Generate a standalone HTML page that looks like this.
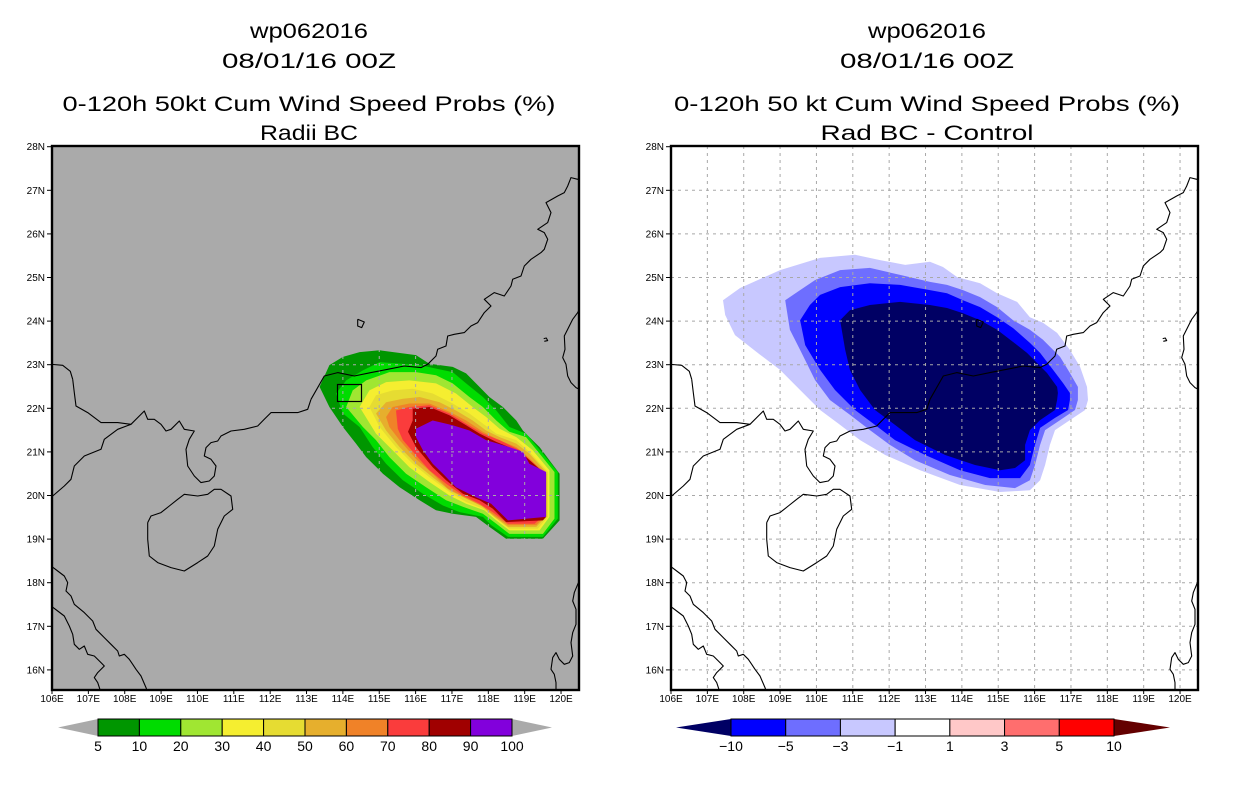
<!DOCTYPE html>
<html><head><meta charset="utf-8"><style>
html,body{margin:0;padding:0;background:#fff;}
svg{display:block;}
text{font-family:"Liberation Sans",sans-serif;fill:#000;}
</style></head><body>
<svg id="root" width="1236" height="800" viewBox="0 0 1236 800" xmlns="http://www.w3.org/2000/svg">
<defs>
<clipPath id="clipL"><rect x="0" y="0" width="527" height="544"/></clipPath>
<clipPath id="clipR"><rect x="0" y="0" width="527" height="544"/></clipPath>
</defs>
<g>
<text x="309" y="38" font-size="21" text-anchor="middle" textLength="118" lengthAdjust="spacingAndGlyphs">wp062016</text>
<text x="309" y="68" font-size="21" text-anchor="middle" textLength="174" lengthAdjust="spacingAndGlyphs">08/01/16 00Z</text>
<text x="309" y="111" font-size="21" text-anchor="middle" textLength="493" lengthAdjust="spacingAndGlyphs">0-120h 50kt Cum Wind Speed Probs (%)</text>
<text x="309" y="140" font-size="21" text-anchor="middle" textLength="98" lengthAdjust="spacingAndGlyphs">Radii BC</text>
</g>
<g>
<text x="927" y="38" font-size="21" text-anchor="middle" textLength="118" lengthAdjust="spacingAndGlyphs">wp062016</text>
<text x="927" y="68" font-size="21" text-anchor="middle" textLength="174" lengthAdjust="spacingAndGlyphs">08/01/16 00Z</text>
<text x="927" y="111" font-size="21" text-anchor="middle" textLength="506" lengthAdjust="spacingAndGlyphs">0-120h 50 kt Cum Wind Speed Probs (%)</text>
<text x="927" y="140" font-size="21" text-anchor="middle" textLength="213" lengthAdjust="spacingAndGlyphs">Rad BC - Control</text>
</g>
<g id="panelL" transform="translate(52,146)"></g>
<g id="panelR" transform="translate(671,146)"></g>
<g id="cbL"></g>
<g id="cbR"></g>
</svg>
<script>
const NS="http://www.w3.org/2000/svg";
// ---- data: probability contour levels (left) ----
const probLevels=[5,10,20,30,40,50,60,70,80,90,100];
const probColors=["#009600","#00dc00","#a0e632","#f5ee30","#e6dc32","#e6af2d","#f08228","#fa3c3c","#a00000","#8200dc"];
const prob5=[[113.36,22.49],[113.63,22.99],[114.00,23.18],[114.46,23.29],[115.01,23.33],[116.01,23.22],[116.38,23.02],[117.02,22.95],[117.39,22.80],[117.66,22.57],[118.03,22.26],[118.40,22.03],[118.77,21.72],[118.95,21.49],[119.13,21.34],[119.41,21.11],[119.68,20.81],[119.96,20.50],[119.96,19.43],[119.50,19.01],[118.49,19.01],[118.03,19.28],[117.66,19.51],[117.02,19.58],[116.56,19.66],[116.11,19.89],[115.56,20.19],[115.10,20.50],[114.64,20.88],[114.36,21.19],[114.00,21.57],[113.63,22.03]];
const prob10=[[113.81,22.34],[114.09,22.64],[114.55,22.87],[115.01,23.06],[116.11,22.99],[117.02,22.83],[117.39,22.57],[117.85,22.26],[118.22,21.95],[118.58,21.57],[119.04,21.42],[119.50,20.96],[119.91,20.54],[119.91,19.47],[119.50,19.05],[118.54,19.05],[118.08,19.32],[117.85,19.51],[117.21,19.62],[116.75,19.77],[116.20,20.04],[115.65,20.35],[115.19,20.73],[114.82,21.11],[114.46,21.57],[114.00,21.88]];
const prob20=[[114.09,22.03],[114.27,22.41],[114.64,22.64],[115.28,22.83],[116.01,22.83],[116.56,22.76],[117.02,22.57],[117.48,22.26],[117.85,22.03],[118.22,21.72],[118.58,21.46],[119.04,21.34],[119.41,20.96],[119.82,20.54],[119.82,19.47],[119.50,19.12],[118.58,19.12],[118.22,19.35],[117.85,19.58],[117.30,19.74],[116.84,19.89],[116.29,20.19],[115.74,20.50],[115.28,20.88],[114.91,21.27],[114.55,21.57]];
const prob30=[[114.46,22.03],[114.73,22.41],[115.19,22.60],[115.83,22.64],[116.56,22.57],[117.11,22.34],[117.57,22.03],[117.94,21.80],[118.31,21.53],[118.77,21.34],[119.22,21.04],[119.68,20.58],[119.68,19.51],[119.41,19.20],[118.58,19.20],[118.22,19.43],[117.89,19.66],[117.39,19.81],[116.93,20.00],[116.38,20.31],[115.83,20.65],[115.46,20.96],[114.91,21.42]];
const prob40=[[114.73,22.03],[114.91,22.30],[115.37,22.41],[115.92,22.45],[116.47,22.34],[117.02,22.11],[117.48,21.88],[117.85,21.65],[118.22,21.42],[118.77,21.27],[119.13,21.00],[119.64,20.54],[119.64,19.51],[119.36,19.24],[118.58,19.24],[118.22,19.47],[117.85,19.70],[117.39,19.85],[116.93,20.08],[116.38,20.42],[115.92,20.73],[115.46,21.11],[115.01,21.57]];
const prob50=[[114.91,21.88],[115.19,22.14],[115.65,22.22],[116.11,22.26],[116.66,22.14],[117.11,21.95],[117.57,21.72],[117.94,21.49],[118.31,21.34],[118.77,21.19],[119.13,20.96],[119.59,20.54],[119.59,19.51],[119.32,19.28],[118.54,19.28],[118.17,19.51],[117.85,19.74],[117.39,19.93],[116.93,20.12],[116.47,20.42],[116.01,20.73],[115.56,21.11],[115.19,21.49]];
const prob60=[[115.19,21.80],[115.37,22.03],[115.83,22.11],[116.38,22.11],[116.93,21.92],[117.39,21.72],[117.85,21.46],[118.22,21.30],[118.77,21.11],[119.04,20.92],[119.54,20.54],[119.54,19.51],[119.32,19.32],[118.54,19.32],[118.17,19.54],[117.80,19.77],[117.34,19.96],[116.88,20.16],[116.47,20.50],[116.01,20.84],[115.56,21.27],[115.28,21.57]];
const prob70=[[115.46,21.95],[115.83,22.03],[116.38,22.07],[116.93,21.88],[117.39,21.65],[117.85,21.42],[118.31,21.27],[118.86,21.04],[119.50,20.54],[119.50,19.51],[119.27,19.35],[118.54,19.35],[118.12,19.62],[117.76,19.81],[117.30,20.00],[116.84,20.27],[116.38,20.58],[115.97,20.96],[115.65,21.27],[115.51,21.53]];
const prob80=[[115.92,21.99],[116.38,22.03],[116.93,21.84],[117.39,21.61],[117.76,21.42],[118.22,21.23],[118.77,21.04],[119.04,20.88],[119.50,20.54],[119.59,20.50],[119.59,19.51],[119.50,19.43],[118.49,19.39],[118.12,19.70],[117.76,19.89],[117.30,20.04],[116.84,20.35],[116.47,20.65],[116.01,21.11],[115.79,21.46],[115.92,21.72]];
const prob90=[[116.01,21.53],[116.47,21.72],[117.02,21.61],[117.48,21.49],[117.94,21.27],[118.58,21.11],[118.95,21.00],[119.13,20.73],[119.59,20.54],[119.59,19.51],[118.54,19.43],[118.08,19.81],[117.66,19.96],[117.11,20.19],[116.75,20.50],[116.47,20.73],[116.20,21.04],[116.01,21.34]];
// ---- data: difference contours (right) ----
const diffLabels=["-10","-5","-3","-1","1","3","5","10"];
const diffColors=["#000064","#0000ff","#6e6eff","#c8c8ff","#ffffff","#ffc8c8","#ff6e6e","#ff0000","#640000"];
const diffM1=[[107.43,24.48],[107.90,24.76],[109.00,25.17],[110.10,25.45],[111.06,25.52],[111.75,25.40],[112.44,25.29],[113.12,25.36],[113.48,25.24],[113.87,25.01],[114.50,24.87],[114.97,24.64],[115.52,24.44],[115.87,24.09],[116.23,23.96],[116.62,23.73],[116.97,23.34],[117.25,22.95],[117.44,22.49],[117.47,22.19],[117.39,21.96],[116.97,21.73],[116.56,21.50],[116.42,21.16],[116.29,20.70],[116.15,20.35],[115.87,20.12],[115.05,20.08],[113.95,20.24],[112.85,20.58],[111.89,20.93],[111.20,21.27],[110.65,21.62],[110.10,21.96],[109.55,22.42],[109.00,22.88],[108.45,23.23],[107.76,23.68],[107.49,24.14]];
const diffM3=[[109.14,24.48],[109.55,24.71],[109.96,24.94],[110.65,25.17],[111.47,25.22],[112.30,25.06],[113.12,24.90],[113.59,24.83],[114.03,24.71],[114.50,24.55],[114.97,24.32],[115.41,24.02],[115.87,23.80],[116.23,23.57],[116.70,23.18],[116.97,22.81],[117.19,22.49],[117.19,22.19],[117.11,21.96],[116.70,21.73],[116.29,21.50],[116.15,21.16],[116.01,20.70],[115.87,20.35],[115.46,20.17],[114.64,20.24],[113.67,20.47],[112.71,20.81],[112.02,21.16],[111.47,21.50],[110.92,21.85],[110.37,22.19],[109.96,22.65],[109.55,23.34],[109.27,23.80]];
const diffM5=[[109.55,24.02],[109.82,24.37],[110.10,24.60],[110.65,24.78],[111.47,24.87],[112.30,24.83],[113.12,24.71],[113.59,24.64],[114.03,24.48],[114.50,24.32],[114.97,24.09],[115.41,23.84],[115.87,23.50],[116.15,23.27],[116.51,22.88],[116.78,22.58],[116.97,22.35],[116.97,22.19],[116.92,21.96],[116.56,21.78],[116.15,21.55],[116.01,21.16],[115.87,20.70],[115.60,20.40],[114.77,20.40],[113.95,20.58],[112.99,20.93],[112.16,21.27],[111.61,21.62],[111.06,21.96],[110.51,22.42],[110.10,22.88],[109.69,23.45]];
const diffM10=[[110.65,24.02],[110.92,24.25],[111.47,24.37],[112.30,24.44],[113.12,24.37],[113.59,24.30],[114.03,24.18],[114.50,24.02],[114.97,23.80],[115.41,23.52],[115.79,23.27],[116.07,23.04],[116.34,22.81],[116.62,22.49],[116.64,22.35],[116.62,22.19],[116.56,21.96],[116.15,21.73],[115.87,21.50],[115.74,21.16],[115.74,20.81],[115.46,20.63],[115.05,20.58],[114.36,20.70],[113.54,20.93],[112.71,21.27],[112.16,21.62],[111.61,21.96],[111.20,22.42],[110.92,22.88],[110.79,23.34]];
const lonTicks=[106,107,108,109,110,111,112,113,114,115,116,117,118,119,120];
const latTicks=[16,17,18,19,20,21,22,23,24,25,26,27,28];

// axis functions
const W=527,H=544,DX=36.36,DY=43.6;
function xs(lon){return (lon-106)*DX;}
function ys(lat){return (28-lat)*DY+0.7;}
function pts(arr){return arr.map(p=>xs(p[0]).toFixed(1)+","+ys(p[1]).toFixed(1)).join(" ");}

const coastSegs=[
 {o:[670,380],p:[[65,0],[70,40],[75,80],[110,100],[150,130],[200,130],[240,135],[265,110],[280,95],[290,120],[310,120],[330,135],[345,155],[360,150],[385,125],[400,150],[430,155],[415,180],[405,210],[410,260],[430,290],[450,310],[475,305],[490,290],[495,260],[480,240],[460,230],[465,205],[480,190],[500,185],[510,170],[540,155],[580,150],[620,140],[640,120],[660,100],[700,100],[740,100],[770,90],[780,60]]},
 {o:[670,380],p:[[65,0],[58,-24],[35,-42],[0,-45]]},
 {o:[670,380],p:[[240,135],[200,150],[160,180],[150,210],[100,230],[70,260],[60,300],[40,320],[5,350]]},
 {o:[670,380],p:[[290,430],[300,410],[330,400],[355,380],[380,360],[400,345],[440,350],[470,345],[490,330],[510,330],[540,350],[545,390],[520,410],[500,450],[490,500],[470,530],[440,550],[400,575],[360,565],[320,550],[295,530],[290,480],[290,430]]},
 {o:[930,160],p:[[0,720],[40,650],[80,640],[130,650],[180,640],[230,630],[280,620],[330,625],[350,615],[375,590],[380,570],[405,560],[410,530],[430,525],[460,520],[480,500],[500,490],[520,460],[540,440],[520,420],[550,400],[580,410],[600,380],[605,360],[630,350],[640,320],[660,300],[690,280],[700,270],[710,240],[700,220],[680,210],[710,190],[720,160],[705,130],[740,110],[760,100],[770,80],[780,55],[800,60],[810,55]]},
 {o:[930,160],p:[[140,480],[160,488],[152,505],[140,500],[140,480]]},
 {o:[670,550],p:[[0,50],[20,65],[40,80],[50,100],[45,125],[60,140],[70,165],[100,190],[125,215],[135,240],[160,265],[180,285],[200,305],[205,320],[220,315],[235,330],[245,345],[255,360],[270,380],[285,415],[290,430]]},
 {o:[670,550],p:[[0,170],[20,185],[40,200],[55,230],[65,255],[70,285],[85,300],[100,290],[110,315],[130,320],[150,340],[160,350],[140,370],[130,385],[140,400],[150,430]]},
 {o:[1130,300],p:[[205,30],[200,40],[185,60],[170,90],[160,110],[162,150],[155,175],[165,195],[170,230],[180,250],[195,265],[205,270]]},
 {o:[1130,300],p:[[98,118],[106,116],[110,124],[100,126]]},
 {o:[1130,300],p:[[205,845],[200,855],[190,880],[185,905],[195,930],[195,975],[185,1000],[180,1030],[185,1070],[175,1090],[160,1095],[145,1080],[135,1060],[125,1075],[120,1110],[130,1125],[135,1150],[135,1180]]}
];

function el(tag,attrs,parent){const e=document.createElementNS(NS,tag);for(const k in attrs)e.setAttribute(k,attrs[k]);parent.appendChild(e);return e;}

function buildPanel(g,clipId,bg,gridColor,layers,colors,names,showBox){
  const inner=el("g",{"clip-path":"url(#"+clipId+")"},g);
  const bgr=el("rect",{x:0,y:0,width:W,height:H,fill:bg},inner);
  
  
  layers.forEach((arr,i)=>{
    const poly=el("polygon",{points:pts(arr),fill:colors[i]},inner);
    
    
  });
  const grid=el("g",{stroke:gridColor,"stroke-width":1,"stroke-dasharray":"3 4",fill:"none"},inner);
  
  
  lonTicks.forEach(l=>{if(l>106)el("line",{x1:xs(l),x2:xs(l),y1:0,y2:H},grid);});
  latTicks.forEach(l=>{if(l<28)el("line",{x1:0,x2:W,y1:ys(l),y2:ys(l)},grid);});
  const coast=el("g",{stroke:"#000","stroke-width":1.1,fill:"none","stroke-linejoin":"round"},inner);
  
  
  coastSegs.forEach(s=>{
    const d=s.p.map(q=>((s.o[0]+q[0]/3-671).toFixed(1)+","+(s.o[1]+q[1]/3-146.7).toFixed(1))).join(" ");
    el("polyline",{points:d},coast);
  });
  if(showBox){
    const b=el("rect",{x:285.5,y:238.5,width:24,height:17,fill:"none",stroke:"#000","stroke-width":1.2},inner);
    
    
  }
  const fr=el("rect",{x:0,y:0,width:W,height:H,fill:"none",stroke:"#000","stroke-width":2.4},g);
  
  
  const ax=el("g",{},g);
  
  
  lonTicks.forEach(l=>{
    el("line",{x1:xs(l),x2:xs(l),y1:H,y2:H+4,stroke:"#000","stroke-width":1},ax);
    const t=el("text",{x:xs(l),y:H+12,"font-size":10,"text-anchor":"middle"},ax);
    t.textContent=l+"E";
    
    
  });
  latTicks.forEach(l=>{
    el("line",{x1:-5,x2:0,y1:ys(l),y2:ys(l),stroke:"#000","stroke-width":1},ax);
    const t=el("text",{x:-7,y:ys(l)+3.5,"font-size":10,"text-anchor":"end"},ax);
    t.textContent=l+"N";
    
    
  });
}

buildPanel(document.getElementById("panelL"),"clipL","#aaaaaa","#aaaaaa",
  [prob5,prob10,prob20,prob30,prob40,prob50,prob60,prob70,prob80,prob90],probColors,
  ["prob-5","prob-10","prob-20","prob-30","prob-40","prob-50","prob-60","prob-70","prob-80","prob-90"],true);
buildPanel(document.getElementById("panelR"),"clipR","#ffffff","#a8a8a8",
  [diffM1,diffM3,diffM5,diffM10],["#c8c8ff","#6e6eff","#0000ff","#000064"],
  ["diff-minus-1","diff-minus-3","diff-minus-5","diff-minus-10"],false);

function colorbar(g,x0,x1,tipL,tipR,fills,arrowL,arrowR,labels,y0,y1){
  const n=fills.length, w=(x1-x0)/n, ym=(y0+y1)/2;
  const a1=el("polygon",{points:`${tipL},${ym} ${x0},${y0} ${x0},${y1}`,fill:arrowL},g);
  
  
  const a2=el("polygon",{points:`${tipR},${ym} ${x1},${y0} ${x1},${y1}`,fill:arrowR},g);
  
  
  fills.forEach((c,i)=>{
    const r=el("rect",{x:x0+i*w,y:y0,width:w,height:y1-y0,fill:c,stroke:"#000","stroke-width":1},g);
    
    
  });
  labels.forEach((s,i)=>{
    const t=el("text",{x:x0+i*w,y:y1+15,"font-size":14,"text-anchor":"middle"},g);
    t.textContent=s.replace("-","\u2212");
    
    
  });
}
colorbar(document.getElementById("cbL"),98,512,58,552,probColors,"#aaaaaa","#aaaaaa",probLevels.map(String),719,736);
colorbar(document.getElementById("cbR"),731,1114,676,1170,diffColors.slice(1,8),diffColors[0],diffColors[8],diffLabels,719,736);
</script>
</body></html>
